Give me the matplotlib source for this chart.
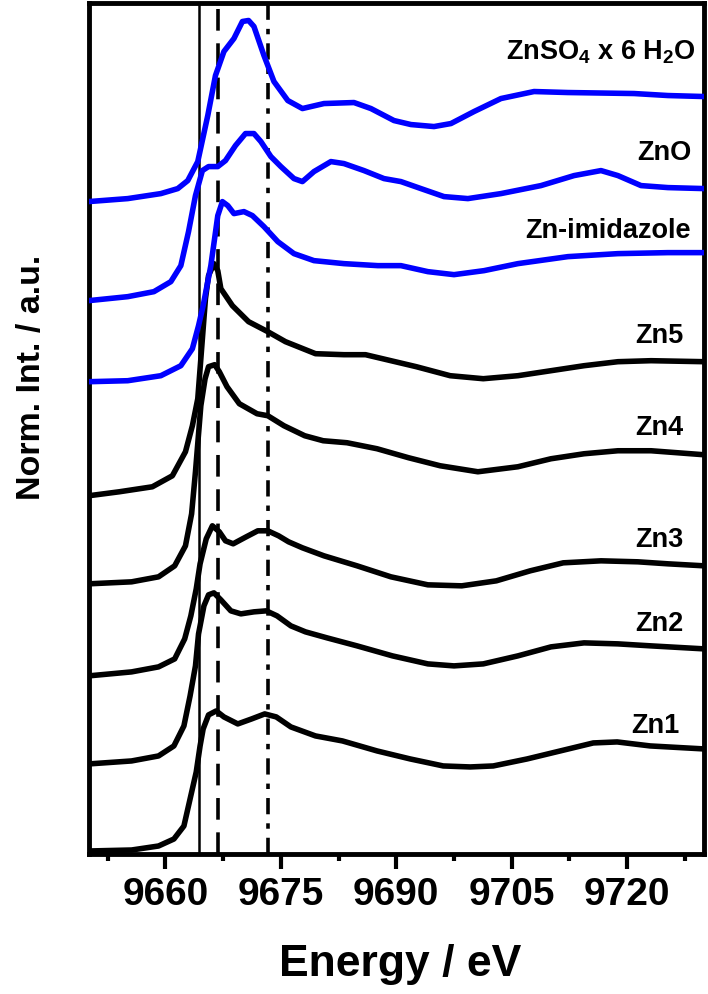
import matplotlib
matplotlib.use('Agg')
import matplotlib.pyplot as plt
from matplotlib.ticker import MultipleLocator

plt.rcParams.update({
    'font.family': ['Liberation Sans', 'DejaVu Sans'],
    'font.weight': 'bold',
    'mathtext.fontset': 'custom',
    'mathtext.rm': 'Liberation Sans:bold',
    'mathtext.bf': 'Liberation Sans:bold',
    'mathtext.default': 'bf',
})

# ─── Data (energy in eV, normalised intensity) ──────────────────────────────

e_znso4 = [9650.0, 9655.1, 9659.4, 9661.6, 9662.9, 9664.2, 9665.5, 9666.5, 9667.6, 9668.9,
           9670.0, 9670.8, 9671.5, 9672.8, 9674.1, 9675.9, 9677.8, 9680.6, 9684.5, 9686.7,
           9689.7, 9691.9, 9694.9, 9697.1, 9700.1, 9703.6, 9707.9, 9712.3, 9720.9, 9725.3, 9730.0]
mu_znso4 = [0.00, 0.03, 0.08, 0.13, 0.21, 0.40, 0.86, 1.26, 1.50, 1.63,
            1.80, 1.81, 1.75, 1.46, 1.20, 1.01, 0.93, 0.98, 0.99, 0.93,
            0.81, 0.77, 0.75, 0.78, 0.90, 1.03, 1.10, 1.09, 1.08, 1.06, 1.05]

e_zno = [9650.0, 9655.1, 9658.5, 9660.7, 9662.0, 9663.0, 9663.9, 9664.8, 9665.6, 9666.8,
         9667.8, 9669.1, 9670.4, 9671.5, 9672.4, 9673.7, 9675.0, 9676.7, 9677.8, 9679.3,
         9681.5, 9683.2, 9685.8, 9688.4, 9690.6, 9693.2, 9696.2, 9699.3, 9703.6, 9708.8,
         9713.1, 9716.6, 9718.8, 9721.8, 9725.3, 9730.0]
mu_zno = [0.00, 0.04, 0.09, 0.19, 0.35, 0.69, 1.05, 1.30, 1.34, 1.34,
          1.40, 1.55, 1.67, 1.67, 1.59, 1.44, 1.34, 1.22, 1.19, 1.29,
          1.39, 1.37, 1.30, 1.22, 1.19, 1.12, 1.04, 1.02, 1.07, 1.15,
          1.25, 1.30, 1.25, 1.15, 1.13, 1.12]

e_imid = [9650.0, 9655.1, 9659.4, 9662.0, 9663.5, 9664.3, 9664.9, 9665.9, 9666.8, 9667.4,
          9668.1, 9668.9, 9670.2, 9671.3, 9672.8, 9674.6, 9676.7, 9679.3, 9683.2, 9687.6,
          9690.6, 9694.1, 9697.5, 9701.4, 9705.8, 9712.3, 9718.8, 9725.3, 9730.0]
mu_imid = [0.00, 0.01, 0.06, 0.16, 0.33, 0.56, 0.76, 1.16, 1.66, 1.80,
           1.76, 1.68, 1.70, 1.66, 1.55, 1.40, 1.28, 1.21, 1.18, 1.16,
           1.16, 1.10, 1.07, 1.11, 1.18, 1.25, 1.28, 1.29, 1.29]

e_zn5 = [9650.0, 9654.0, 9658.3, 9660.9, 9662.6, 9663.5, 9664.2, 9664.8, 9665.2, 9665.6,
         9666.3, 9666.8, 9667.2, 9668.7, 9670.8, 9673.3, 9675.6, 9679.5, 9683.2, 9686.0,
         9689.3, 9692.6, 9697.0, 9701.3, 9705.8, 9710.1, 9714.4, 9718.8, 9723.1, 9730.0]
mu_zn5 = [0.00, 0.04, 0.09, 0.20, 0.44, 0.70, 0.97, 1.57, 1.97, 2.20,
          2.32, 2.25, 2.07, 1.90, 1.74, 1.64, 1.54, 1.42, 1.41, 1.41,
          1.35, 1.29, 1.20, 1.17, 1.20, 1.25, 1.30, 1.34, 1.35, 1.34]

e_zn4 = [9650.0, 9655.6, 9659.1, 9661.2, 9662.6, 9663.4, 9663.9, 9664.6, 9665.15, 9665.6,
         9666.4, 9667.0, 9668.0, 9669.6, 9671.9, 9673.3, 9675.4, 9678.1, 9680.5, 9683.6,
         9687.5, 9691.6, 9695.7, 9700.6, 9705.8, 9710.1, 9714.4, 9718.8, 9723.1, 9730.0]
mu_zn4 = [0.00, 0.02, 0.07, 0.18, 0.38, 0.70, 1.12, 1.78, 2.05, 2.17,
          2.19, 2.12, 1.97, 1.80, 1.70, 1.68, 1.58, 1.48, 1.43, 1.41,
          1.35, 1.26, 1.18, 1.12, 1.17, 1.25, 1.30, 1.33, 1.33, 1.29]

e_zn3 = [9650.0, 9655.6, 9659.1, 9661.2, 9662.5, 9663.3, 9664.0, 9664.5, 9665.3, 9666.1,
         9667.0, 9667.8, 9668.8, 9670.5, 9672.0, 9673.3, 9674.7, 9676.0, 9677.8, 9680.6,
         9684.9, 9689.3, 9694.1, 9698.5, 9703.0, 9707.4, 9711.7, 9716.6, 9721.4, 9725.3, 9730.0]
mu_zn3 = [0.00, 0.04, 0.09, 0.17, 0.37, 0.60, 0.87, 1.12, 1.37, 1.50,
          1.44, 1.35, 1.32, 1.39, 1.45, 1.45, 1.40, 1.34, 1.28, 1.20,
          1.10, 0.99, 0.91, 0.90, 0.95, 1.05, 1.13, 1.15, 1.14, 1.12, 1.10]

e_zn2 = [9650.0, 9655.6, 9659.1, 9661.1, 9662.4, 9663.2, 9663.9, 9664.3, 9665.0, 9665.6,
         9666.3, 9667.2, 9668.5, 9669.8, 9671.5, 9673.1, 9674.5, 9676.3, 9678.2, 9681.0,
         9684.9, 9689.5, 9694.1, 9697.5, 9701.3, 9705.8, 9710.1, 9714.4, 9718.8, 9723.1, 9730.0]
mu_zn2 = [0.00, 0.03, 0.08, 0.18, 0.38, 0.68, 0.98, 1.30, 1.58, 1.69,
          1.71, 1.64, 1.53, 1.50, 1.52, 1.53, 1.48, 1.38, 1.32, 1.26,
          1.18, 1.08, 1.00, 0.98, 1.00, 1.08, 1.17, 1.21, 1.20, 1.18, 1.15]

e_zn1 = [9650.0, 9655.6, 9659.1, 9661.1, 9662.4, 9663.2, 9664.0, 9664.5, 9664.9, 9665.6,
         9666.6, 9667.6, 9669.4, 9671.2, 9672.9, 9674.4, 9676.3, 9679.5, 9683.0, 9687.5,
         9691.8, 9696.1, 9699.6, 9702.6, 9707.0, 9711.3, 9715.6, 9718.7, 9723.0, 9730.0]
mu_zn1 = [0.00, 0.01, 0.05, 0.12, 0.25, 0.52, 0.79, 1.05, 1.22, 1.36,
          1.40, 1.34, 1.27, 1.32, 1.37, 1.34, 1.24, 1.15, 1.10, 1.00,
          0.92, 0.85, 0.84, 0.85, 0.92, 1.00, 1.08, 1.09, 1.05, 1.02]

# vertical offsets of the stacked spectra
off_znso4, off_zno, off_imid = 6.52, 5.53, 4.72
off_zn5, off_zn4, off_zn3, off_zn2, off_zn1 = 3.58, 2.70, 1.78, 0.90, 0.03

# reference energies (edge, white line, shoulder)
e_edge, e_white, e_shoulder = 9664.3, 9666.8, 9673.3

# sample labels: text, right edge (eV), baseline (plot units)
label_text = [r'ZnSO$_4$ x 6 H$_2$O', 'ZnO', 'Zn-imidazole',
              'Zn5', 'Zn4', 'Zn3', 'Zn2', 'Zn1']
label_x = [9728.9, 9728.3, 9728.3, 9727.3, 9727.3, 9727.3, 9727.3, 9726.8]
label_y = [7.95, 6.95, 6.17, 5.12, 4.20, 3.08, 2.24, 1.22]

x_ticks = [9660, 9675, 9690, 9705, 9720]

# ─── Figure ──────────────────────────────────────────────────────────────────

fig = plt.figure(figsize=(7.08, 9.95), dpi=100)
ax = fig.add_axes([0.125, 0.1407, 0.8695, 0.8548])

ax.axvline(e_edge, color='black', lw=1.8, zorder=1)
ax.axvline(e_white, color='black', lw=2.6, dashes=(6, 3.5), zorder=1)
ax.axvline(e_shoulder, color='black', lw=2.6, dashes=(4.5, 2.5, 1.5, 2.5), zorder=1)

black_sets = [(e_zn1, mu_zn1, off_zn1), (e_zn2, mu_zn2, off_zn2), (e_zn3, mu_zn3, off_zn3),
              (e_zn4, mu_zn4, off_zn4), (e_zn5, mu_zn5, off_zn5)]
blue_sets = [(e_imid, mu_imid, off_imid), (e_zno, mu_zno, off_zno),
             (e_znso4, mu_znso4, off_znso4)]

for e, mu, off in black_sets:
    ax.plot(e, [m + off for m in mu], color='black', lw=4,
            solid_joinstyle='round', solid_capstyle='round', zorder=2)
for e, mu, off in blue_sets:
    ax.plot(e, [m + off for m in mu], color='#0000ff', lw=4,
            solid_joinstyle='round', solid_capstyle='round', zorder=3)

for txt, x, y in zip(label_text, label_x, label_y):
    ax.text(x, y, txt, ha='right', va='baseline', fontsize=19.5,
            fontweight='bold', color='black')

ax.set_xlim(9650, 9730)
ax.set_ylim(0, 8.5)
ax.set_xticks(x_ticks)
ax.xaxis.set_minor_locator(MultipleLocator(7.5))
ax.set_yticks([])

for sp in ax.spines.values():
    sp.set_linewidth(3.5)

ax.tick_params(axis='x', which='major', direction='out', length=10.5, width=3,
               pad=5, labelsize=28)
ax.tick_params(axis='x', which='minor', direction='out', length=5, width=3)
for lab in ax.get_xticklabels():
    lab.set_fontweight('bold')

ax.set_xlabel('Energy / eV', fontsize=32, fontweight='bold')
ax.xaxis.set_label_coords(0.506, -0.129)
ax.xaxis.label.set_verticalalignment('center')

ax.set_ylabel('Norm. Int. / a.u.', fontsize=24.5, fontweight='bold')
ax.yaxis.set_label_coords(-0.093, 0.561)
ax.yaxis.label.set_verticalalignment('center')

fig.savefig('out.png', dpi=100)
